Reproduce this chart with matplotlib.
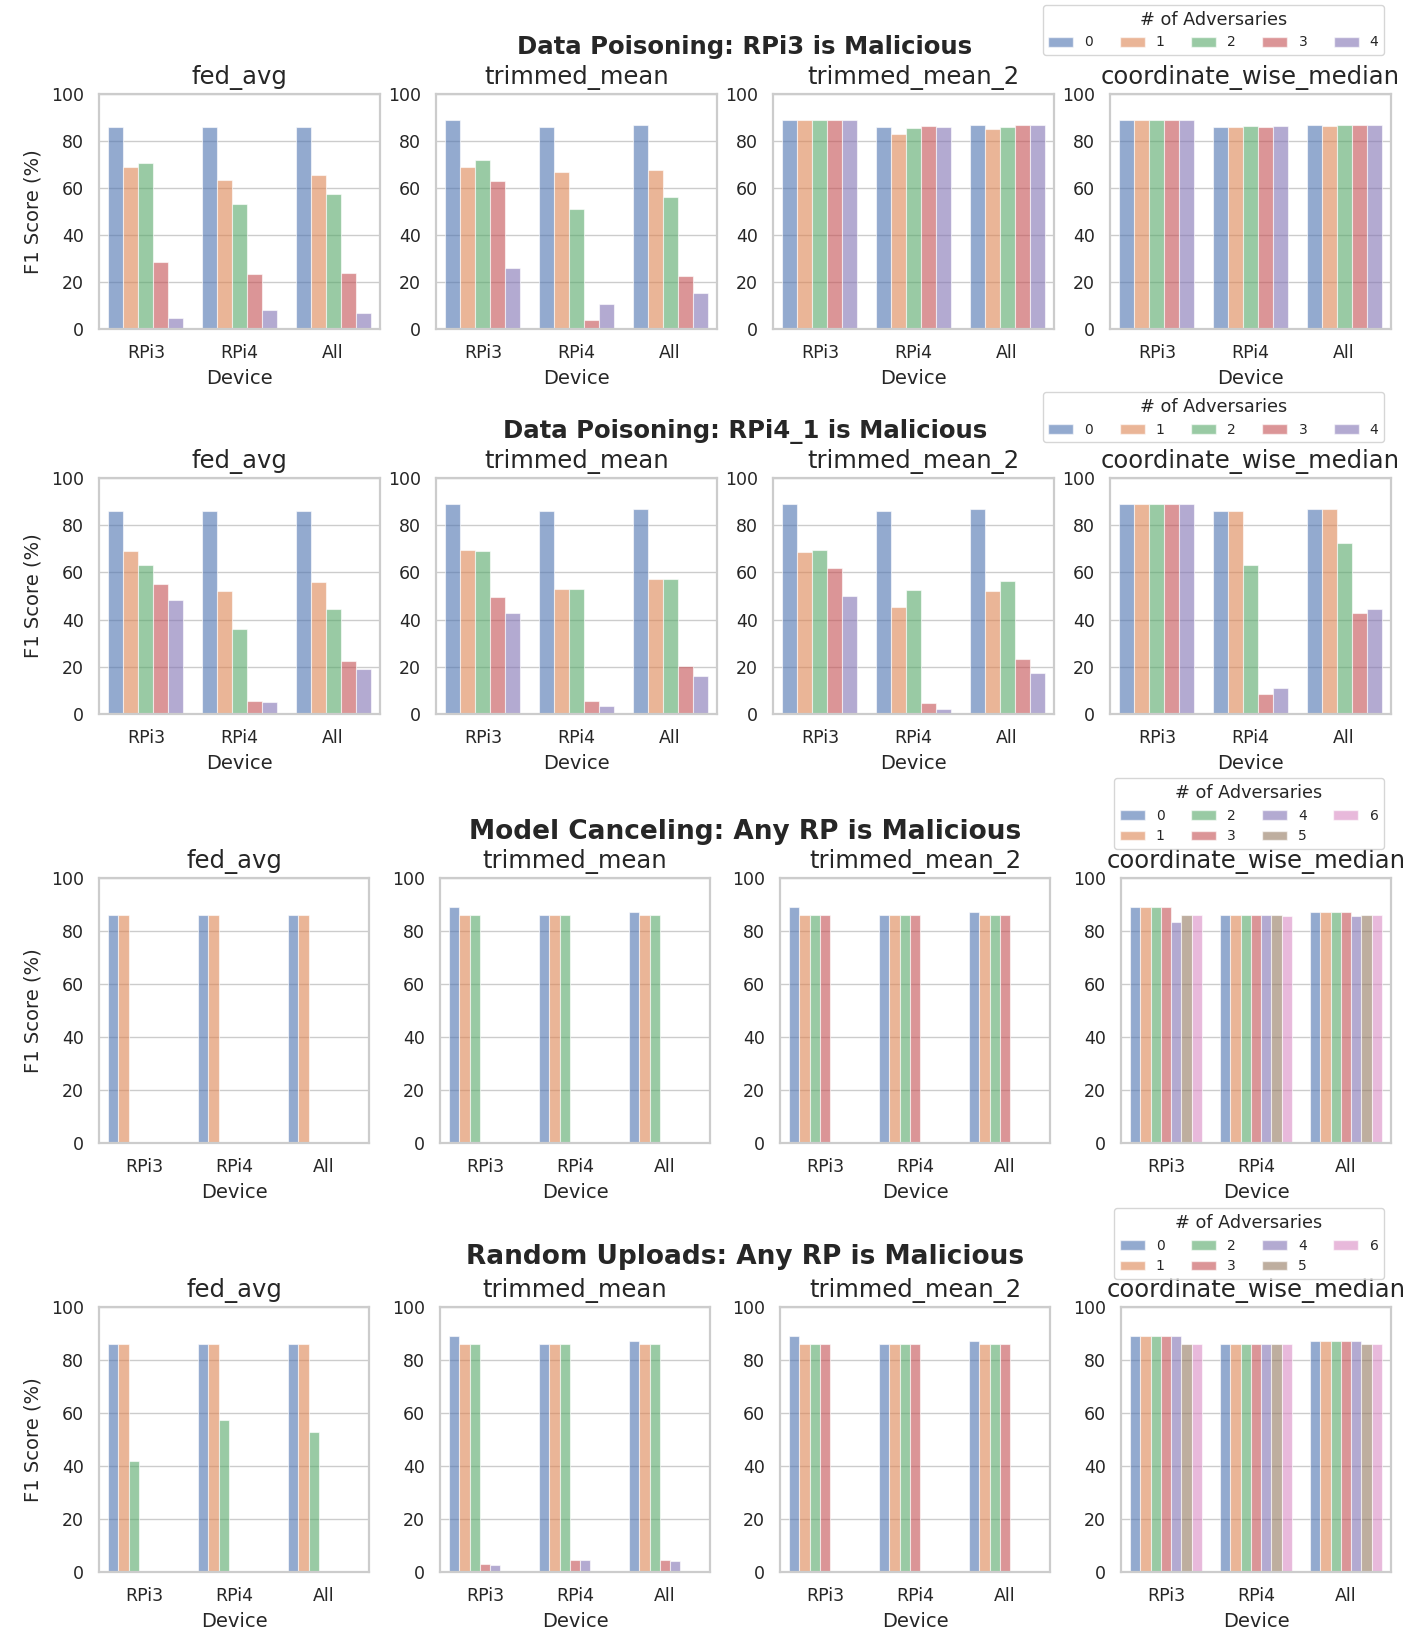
import numpy as np
import matplotlib
matplotlib.use("Agg")
import matplotlib.pyplot as plt
import seaborn as sns
from matplotlib.patches import Patch

nan = np.nan

devices = ["RPi3", "RPi4", "All"]
aggregators = ["fed_avg", "trimmed_mean", "trimmed_mean_2", "coordinate_wise_median"]
adv_five = ["0", "1", "2", "3", "4"]
adv_seven = ["0", "1", "2", "3", "4", "5", "6"]

# F1 score (%), one inner list per device, one value per # of adversaries

# Data Poisoning: RPi3 is Malicious
dp3_fed_avg = [[86, 69, 70.5, 28.5, 4.5], [86, 63.5, 53, 23.5, 8], [86, 65.5, 57.5, 24, 7]]
dp3_trimmed_mean = [[89, 69, 72, 63, 26], [86, 67, 51, 4, 10.5], [87, 67.5, 56, 22.5, 15.5]]
dp3_trimmed_mean_2 = [[89, 89, 89, 89, 89], [86, 83, 85.5, 86.5, 86], [87, 85, 86, 87, 87]]
dp3_cwm = [[89, 89, 89, 89, 89], [86, 86, 86.5, 86, 86.5], [87, 86.5, 87, 87, 87]]

# Data Poisoning: RPi4_1 is Malicious
dp4_fed_avg = [[86, 69, 63, 55, 48.5], [86, 52, 36, 5.5, 5], [86, 56, 44.5, 22.5, 19]]
dp4_trimmed_mean = [[89, 69.5, 69, 49.5, 43], [86, 53, 53, 5.5, 3.5], [87, 57, 57, 20.5, 16]]
dp4_trimmed_mean_2 = [[89, 68.5, 69.5, 62, 50], [86, 45.5, 52.5, 4.5, 2], [87, 52, 56.5, 23.5, 17.5]]
dp4_cwm = [[89, 89, 89, 89, 89], [86, 86, 63, 8.5, 11], [87, 87, 72.5, 43, 44.5]]

# Model Canceling: Any RP is Malicious
mc_fed_avg = [[86, 86, 0.4, nan, nan, nan, nan],
              [86, 86, nan, nan, nan, nan, nan],
              [86, 86, nan, nan, nan, nan, nan]]
mc_trimmed_mean = [[89, 86, 86, 0.4, 0.4, nan, nan],
                   [86, 86, 86, nan, nan, nan, nan],
                   [87, 86, 86, nan, nan, nan, nan]]
mc_trimmed_mean_2 = [[89, 86, 86, 86, 0.4, 0.4, nan],
                     [86, 86, 86, 86, nan, nan, nan],
                     [87, 86, 86, 86, nan, nan, nan]]
mc_cwm = [[89, 89, 89, 89, 83.5, 86, 86],
          [86, 86, 86, 86, 86, 86, 85.8],
          [87, 87, 87, 87, 85.5, 86, 86]]

# Random Uploads: Any RP is Malicious
ru_fed_avg = [[86, 86, 42, nan, nan, nan, nan],
              [86, 86, 57.5, nan, nan, nan, nan],
              [86, 86, 53, nan, nan, nan, nan]]
ru_trimmed_mean = [[89, 86, 86, 3, 2.5, nan, nan],
                   [86, 86, 86, 4.5, 4.5, nan, nan],
                   [87, 86, 86, 4.5, 4, nan, nan]]
ru_trimmed_mean_2 = [[89, 86, 86, 86, nan, nan, nan],
                     [86, 86, 86, 86, nan, nan, nan],
                     [87, 86, 86, 86, nan, nan, nan]]
ru_cwm = [[89, 89, 89, 89, 89, 86, 86],
          [86, 86, 86, 86, 86, 86, 86],
          [87, 87, 87, 87, 87, 86, 86]]

W, H = 1412, 1634

sns.set_theme(style="whitegrid")
plt.rcParams["font.family"] = ["DejaVu Sans"]
palette = sns.color_palette("deep")

fig = plt.figure(figsize=(W / 100, H / 100), dpi=100)


def px_box(left, top, width, bottom):
    return [left / W, 1 - bottom / H, width / W, (bottom - top) / H]


def draw_row(title, panels, levels, top, bottom, lefts, width, title_y, title_size, legend_top, ncol):
    n = len(levels)
    w = 0.8 / n
    for k, (agg, data) in enumerate(zip(aggregators, panels)):
        ax = fig.add_axes(px_box(lefts[k], top, width, bottom))
        arr = np.array(data, dtype=float)
        for j in range(n):
            xs = np.arange(len(devices)) - 0.4 + w * (j + 0.5)
            vals = arr[:, j]
            ok = ~np.isnan(vals)
            ax.bar(xs[ok], vals[ok], width=w, color=palette[j], alpha=0.6,
                   edgecolor="white", linewidth=0.8)
        ax.set_xlim(-0.5, len(devices) - 0.5)
        ax.set_ylim(0, 100)
        ax.set_yticks([0, 20, 40, 60, 80, 100])
        ax.set_xticks(range(len(devices)))
        ax.set_xticklabels(devices)
        ax.tick_params(axis="both", labelsize=12.5, pad=11, length=0)
        ax.grid(axis="x", visible=False)
        ax.set_title(agg, fontsize=17.5, pad=7)
        ax.set_xlabel("Device", fontsize=14, labelpad=5)
        if k == 0:
            ax.set_ylabel("F1 Score (%)", fontsize=14, labelpad=6)
        for sp in ax.spines.values():
            sp.set_color("#cccccc")
            sp.set_linewidth(1.6)
    fig.text(745 / W, 1 - title_y / H, title, ha="center", va="center",
             fontsize=title_size, fontweight="bold", color="#262626")
    handles = [Patch(facecolor=palette[j], alpha=0.6, edgecolor="white") for j in range(n)]
    leg = fig.legend(handles, levels, title="# of Adversaries", loc="upper right",
                     bbox_to_anchor=(1384 / W, 1 - legend_top / H),
                     ncol=ncol, fontsize=10, title_fontsize=12.7, borderaxespad=0,
                     handlelength=1.8, columnspacing=1.9, frameon=True)
    leg.get_frame().set_edgecolor("#cccccc")


wide = [99, 436, 773, 1110]
narrow = [99, 440, 780, 1121]

draw_row("Data Poisoning: RPi3 is Malicious",
         [dp3_fed_avg, dp3_trimmed_mean, dp3_trimmed_mean_2, dp3_cwm],
         adv_five, 94, 329, wide, 281, 47, 17.6, 5, 5)
draw_row("Data Poisoning: RPi4_1 is Malicious",
         [dp4_fed_avg, dp4_trimmed_mean, dp4_trimmed_mean_2, dp4_cwm],
         adv_five, 478, 714, wide, 281, 432, 17.6, 392, 5)
draw_row("Model Canceling: Any RP is Malicious",
         [mc_fed_avg, mc_trimmed_mean, mc_trimmed_mean_2, mc_cwm],
         adv_seven, 878, 1143, narrow, 270, 832, 19, 778, 4)
draw_row("Random Uploads: Any RP is Malicious",
         [ru_fed_avg, ru_trimmed_mean, ru_trimmed_mean_2, ru_cwm],
         adv_seven, 1307, 1572, narrow, 270, 1257, 19, 1208, 4)

fig.savefig("out.png", dpi=100, facecolor="white")
